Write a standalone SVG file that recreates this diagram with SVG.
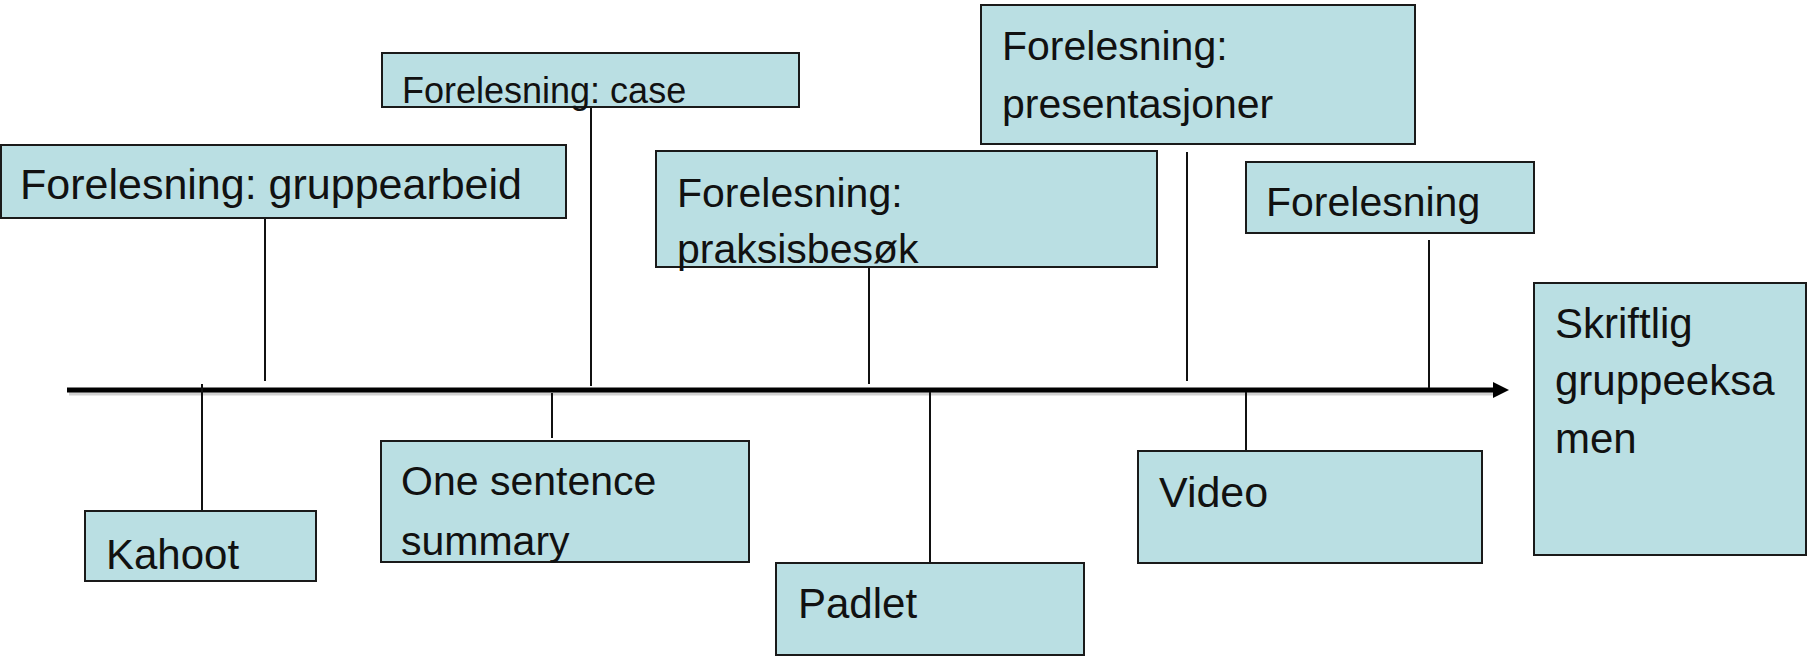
<svg xmlns="http://www.w3.org/2000/svg" width="1808" height="657" viewBox="0 0 1808 657">
<style>
.box{fill:#badfe3;stroke:#1a1a1a;stroke-width:2}
.t{font-family:"Liberation Sans",Arial,sans-serif;font-size:41px;fill:#111}
.c{stroke:#111;stroke-width:2;fill:none}
.axis{stroke:#000;stroke-width:5;fill:none}
.shadow{stroke:#000;stroke-opacity:0.18;stroke-width:5;fill:none}
</style>
<defs>
<marker id="arr" markerUnits="userSpaceOnUse" markerWidth="18" markerHeight="18" refX="2" refY="9" orient="auto">
<path d="M0,1 L16,9 L0,17 Z" fill="#000"/>
</marker>
</defs>
<rect width="1808" height="657" fill="#fff"/>
<g id="connectors">
<line class="shadow" x1="69" y1="393" x2="1498" y2="393"/>
<line class="axis" x1="67" y1="390" x2="1495" y2="390" marker-end="url(#arr)"/>
<line class="c" x1="265" y1="218" x2="265" y2="381"/>
<line class="c" x1="591" y1="107" x2="591" y2="386"/>
<line class="c" x1="869" y1="267" x2="869" y2="384"/>
<line class="c" x1="1187" y1="152" x2="1187" y2="381"/>
<line class="c" x1="1429" y1="240" x2="1429" y2="388"/>
<line class="c" x1="202" y1="384" x2="202" y2="511"/>
<line class="c" x1="552" y1="393" x2="552" y2="438"/>
<line class="c" x1="930" y1="392" x2="930" y2="563"/>
<line class="c" x1="1246" y1="392" x2="1246" y2="450"/>
</g>
<g id="n-gruppearbeid">
<rect class="box" x="1" y="145" width="565" height="73"/>
<text class="t" x="20" y="199" style="font-size:43px">Forelesning: gruppearbeid</text>
</g>
<g id="n-case">
<rect class="box" x="382" y="53" width="417" height="54"/>
<text class="t" x="402" y="103" style="font-size:36px">Forelesning: case</text>
</g>
<g id="n-praksis">
<rect class="box" x="656" y="151" width="501" height="116"/>
<text class="t" x="677" y="207">Forelesning:</text>
<text class="t" x="677" y="263">praksisbesøk</text>
</g>
<g id="n-presentasjoner">
<rect class="box" x="981" y="5" width="434" height="139"/>
<text class="t" x="1002" y="60">Forelesning:</text>
<text class="t" x="1002" y="118">presentasjoner</text>
</g>
<g id="n-forelesning">
<rect class="box" x="1246" y="162" width="288" height="71"/>
<text class="t" x="1266" y="216">Forelesning</text>
</g>
<g id="n-skriftlig">
<rect class="box" x="1534" y="283" width="272" height="272"/>
<text class="t" x="1555" y="338" style="font-size:42px">Skriftlig</text>
<text class="t" x="1555" y="395" style="font-size:42px">gruppeeksa</text>
<text class="t" x="1555" y="453" style="font-size:42px">men</text>
</g>
<g id="n-kahoot">
<rect class="box" x="85" y="511" width="231" height="70"/>
<text class="t" x="106" y="569" style="font-size:42px">Kahoot</text>
</g>
<g id="n-onesentence">
<rect class="box" x="381" y="441" width="368" height="121"/>
<text class="t" x="401" y="495">One sentence</text>
<text class="t" x="401" y="555">summary</text>
</g>
<g id="n-padlet">
<rect class="box" x="776" y="563" width="308" height="92"/>
<text class="t" x="798" y="618" style="font-size:42px">Padlet</text>
</g>
<g id="n-video">
<rect class="box" x="1138" y="451" width="344" height="112"/>
<text class="t" x="1159" y="507" style="font-size:43px">Video</text>
</g>
</svg>
